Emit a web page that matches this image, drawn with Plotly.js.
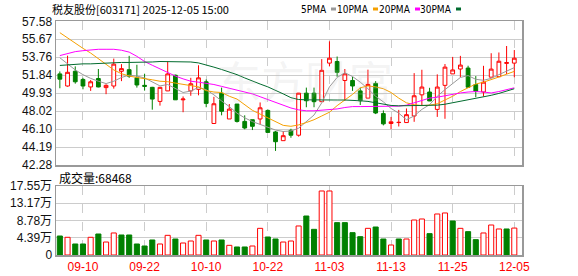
<!DOCTYPE html>
<html>
<head>
<meta charset="utf-8">
<script src="https://cdn.plot.ly/plotly-3.0.1.min.js"></script>
<style>html,body{margin:0;padding:0;background:#fff;}#chart{width:578px;height:276px;}</style>
</head>
<body>
<div id="chart"></div>
<script>
const dates = ['09-05','09-08','09-09','09-10','09-11','09-12','09-15','09-16','09-17','09-18','09-19','09-22','09-23','09-24','09-25','09-26','09-29','09-30',
  '10-09','10-10','10-13','10-14','10-15','10-16','10-17','10-20','10-21','10-22','10-23','10-24','10-27','10-28','10-29','10-30','10-31',
  '11-03','11-04','11-05','11-06','11-07','11-10','11-11','11-12','11-13','11-14','11-17','11-18','11-19','11-20','11-21','11-24','11-25','11-26','11-27','11-28',
  '12-01','12-02','12-03','12-04','12-05'];
const open  = [51.98,50.69,52.26,51.39,50.59,51.49,50.52,50.69,52.26,52.43,51.56,50.76,50.55,49.05,50.17,51.84,49.22,50.17,50.34,51.14,
  46.70,49.93,47.18,48.77,46.92,47.10,47.18,48.09,45.80,44.87,45.97,45.45,49.93,49.93,49.02,53.13,53.30,51.28,51.28,50.17,
  49.40,50.97,47.75,46.70,46.80,46.80,47.50,49.75,50.05,48.20,50.76,51.98,52.50,52.60,50.84,50.05,51.63,51.68,53.10,53.13];
const high  = [52.24,53.92,52.78,51.56,51.32,52.50,50.87,53.61,53.02,53.90,52.95,52.00,50.60,50.60,53.30,51.90,49.58,51.56,52.90,51.39,
  49.54,50.52,48.77,48.77,47.57,47.10,48.94,48.20,45.90,45.90,46.14,49.95,50.52,50.52,53.55,55.45,53.83,52.50,51.67,50.52,
  52.43,51.21,48.09,47.40,48.15,48.30,52.06,52.42,50.50,51.93,53.03,53.79,53.90,52.85,51.75,52.84,54.18,54.26,54.95,54.52];
const low   = [50.45,50.62,50.94,50.34,50.17,50.55,49.82,50.41,51.21,51.56,50.52,50.20,48.17,48.60,50.15,49.20,47.90,49.65,49.70,48.43,
  46.70,47.57,47.18,46.80,46.08,46.00,46.60,45.75,43.78,44.87,45.18,45.30,48.43,48.43,49.02,52.78,51.67,49.12,50.17,48.67,
  49.40,47.70,46.50,46.10,46.38,46.80,46.88,48.65,49.08,47.40,47.20,51.97,51.62,50.55,49.50,49.57,51.63,51.68,51.95,51.62];
const close = [51.42,52.15,51.14,50.69,51.14,50.59,50.76,53.02,52.54,51.74,50.80,50.66,49.30,50.55,51.98,49.22,49.30,50.93,51.56,48.84,
  48.80,48.00,48.23,46.92,46.22,46.40,48.37,45.75,44.76,45.40,45.45,49.93,49.12,49.02,52.36,53.65,52.15,51.98,50.69,49.12,
  50.86,47.82,46.66,46.88,46.82,47.64,49.65,50.58,49.10,50.58,52.70,52.40,52.92,50.56,50.14,51.10,52.49,53.33,53.18,53.65];
const ma5  = [53.70,53.00,52.40,51.90,51.50,51.20,50.95,51.20,51.60,51.85,51.75,51.55,51.10,50.70,50.85,50.40,50.00,50.15,50.55,50.30,
  49.75,49.10,48.50,47.80,47.30,46.90,46.60,46.25,46.00,45.85,45.90,46.20,46.90,47.60,48.90,50.60,51.60,52.10,51.70,51.10,
  50.40,49.60,49.00,48.30,47.80,47.10,47.50,48.20,48.70,49.60,50.30,51.00,51.60,51.80,51.40,51.30,51.50,51.90,52.30,52.65];
const ma10 = [56.37,55.80,55.20,54.70,54.20,53.60,53.00,52.40,52.00,51.75,51.60,51.50,51.35,51.20,51.15,51.00,50.85,50.70,50.60,50.20,
  50.05,50.00,49.60,49.30,48.70,48.10,47.70,47.30,46.90,46.50,46.40,46.55,46.80,47.10,47.50,47.90,48.60,49.20,49.80,50.50,
  50.70,50.60,50.40,50.00,49.40,48.90,48.70,48.60,48.65,48.80,49.20,49.60,50.10,50.50,50.90,51.10,51.35,51.65,51.95,52.25];
const ma20 = [53.93,54.15,54.35,54.45,54.55,54.60,54.60,54.60,54.50,54.30,53.85,53.30,52.90,52.50,52.10,51.75,51.45,51.20,51.10,51.00,
  50.85,50.65,50.45,50.25,50.05,49.85,49.55,49.25,48.95,48.60,48.35,48.15,48.05,48.05,48.10,48.15,48.25,48.40,48.50,48.50,
  48.50,48.50,48.50,48.50,48.55,48.65,48.90,49.15,49.40,49.50,49.65,49.85,49.95,50.05,50.10,50.05,49.95,50.10,50.30,50.50];
const ma30 = [52.88,52.95,53.00,53.05,53.05,53.10,53.10,53.15,53.20,53.20,53.20,53.20,53.25,53.30,53.30,53.30,53.30,53.25,53.15,52.95,
  52.70,52.45,52.20,51.90,51.55,51.20,50.90,50.60,50.25,49.85,49.45,49.25,49.22,49.20,49.20,49.20,49.20,49.20,49.18,49.12,
  49.05,48.90,48.75,48.62,48.58,48.58,48.58,48.58,48.60,48.65,48.75,48.90,49.05,49.20,49.35,49.50,49.70,49.90,50.15,50.40];
const volume = [4.83,4.50,2.80,2.80,4.50,5.34,3.30,5.60,5.09,5.09,2.80,2.29,3.82,2.80,5.00,4.07,3.05,3.56,5.00,3.82,
  3.56,3.82,2.46,2.04,2.04,2.29,6.78,4.58,4.07,3.30,3.56,7.38,9.92,6.53,16.28,16.28,8.23,8.23,5.68,4.66,
  6.78,7.12,4.07,2.54,4.07,4.07,8.90,9.16,5.43,10.43,10.69,8.65,6.78,5.94,3.90,5.60,7.63,6.62,6.62,6.85];
const volUp = [0,1,0,0,1,0,1,1,0,0,0,0,0,1,1,0,1,1,1,0,
  1,0,1,0,0,1,1,0,0,1,1,1,0,0,1,1,0,0,0,0,
  1,0,0,1,0,1,1,1,0,1,1,0,1,0,0,1,1,1,0,1];
const priceTicks = [42.28,44.19,46.10,48.02,49.93,51.84,53.76,55.67,57.58];
const volTicks = [0,4.39,8.78,13.17,17.55];
const volTickText = ['0','4.39万','8.78万','13.17万','17.55万'];
const dateTicks = ['09-10','09-22','10-10','10-22','11-03','11-13','11-25','12-05'];
const titleText = '税友股份[603171] 2025-12-05 15:00';
const volLabel = '成交量:68468';
const maNames = ['5PMA','10PMA','20PMA','30PMA'];

const RED = '#ff0000', GREEN = '#008000';
const maColors = ['#999999','#f5a000','#ff00ff','#006b2e'];
const W = 578, H = 276;
const px = x => x / W, py = y => 1 - y / H;
const xDom = [px(56), px(522)];
const tickFont = {family: 'Liberation Sans, Arial, Noto Sans CJK SC', size: 12, color: '#111'};

const traces = [];
traces.push({
  type: 'candlestick', x: dates, open: open, high: high, low: low, close: close,
  xaxis: 'x', yaxis: 'y', line: {width: 1},
  increasing: {line: {color: RED, width: 1}, fillcolor: '#ffffff'},
  decreasing: {line: {color: GREEN, width: 1}, fillcolor: GREEN},
  hoverinfo: 'skip'
});
[ma5, ma10, ma20, ma30].forEach((m, k) => traces.push({
  type: 'scatter', mode: 'lines', x: dates, y: m, xaxis: 'x', yaxis: 'y',
  line: {color: maColors[k], width: 1}, hoverinfo: 'skip'
}));
traces.push({
  type: 'bar', x: dates, y: volume, xaxis: 'x2', yaxis: 'y2', width: 0.66,
  marker: {color: volUp.map(u => u ? '#ffffff' : GREEN),
           line: {color: volUp.map(u => u ? RED : GREEN), width: 1}},
  hoverinfo: 'skip'
});

const annotations = [
  {text: titleText, x: px(50), y: py(9), xref: 'paper', yref: 'paper', xanchor: 'left', yanchor: 'middle',
   showarrow: false, font: {family: 'Noto Sans CJK SC', size: 11, color: '#000'}},
  {text: volLabel, x: px(57), y: py(177), xref: 'paper', yref: 'paper', xanchor: 'left', yanchor: 'middle',
   showarrow: false, font: {family: 'Noto Sans CJK SC', size: 12, color: '#000'}},
  {text: '东方财富', x: px(305), y: py(80), xref: 'paper', yref: 'paper', xanchor: 'center', yanchor: 'middle',
   showarrow: false, font: {family: 'Noto Sans CJK SC', size: 44, color: 'rgba(190,190,190,0.18)'}}
];
const legendEnds = [328, 370, 412, 453];
const shapes = [];
maNames.forEach((n, k) => {
  annotations.push({text: n, x: px(legendEnds[k] + 1), y: py(9), xref: 'paper', yref: 'paper', xanchor: 'right', yanchor: 'middle',
    showarrow: false, font: {family: 'Liberation Sans Narrow, DejaVu Sans Condensed, Liberation Sans', size: 10, color: '#000'}});
  shapes.push({type: 'rect', xref: 'paper', yref: 'paper', x0: px(legendEnds[k] + 3), x1: px(legendEnds[k] + 8),
    y0: py(10.5), y1: py(7.5), fillcolor: maColors[k], line: {width: 0}});
});

const axisCommon = {
  type: 'category', range: [-0.5, 60.0], domain: xDom, tickvals: dateTicks, ticktext: dateTicks,
  showgrid: true, gridcolor: '#cccccc', griddash: 'dash', gridwidth: 1,
  showline: true, mirror: true, linecolor: '#999999', linewidth: 1.5, zeroline: false, ticks: '', fixedrange: true
};
const layout = {
  width: W, height: H, margin: {l: 0, r: 0, t: 0, b: 0},
  paper_bgcolor: '#ffffff', plot_bgcolor: '#ffffff', showlegend: false, hovermode: false,
  xaxis: Object.assign({}, axisCommon, {anchor: 'y', showticklabels: false, rangeslider: {visible: false}}),
  yaxis: {domain: [py(165), py(21.3)], range: [42.28, 57.58], tickvals: priceTicks, ticktext: priceTicks.map(v => v.toFixed(2)),
    showgrid: true, gridcolor: '#cccccc', gridwidth: 1, showline: true, mirror: true, linecolor: '#999999', linewidth: 1.5,
    zeroline: false, ticks: '', tickfont: tickFont, anchor: 'x', fixedrange: true},
  xaxis2: Object.assign({}, axisCommon, {anchor: 'y2', showticklabels: true,
    tickfont: {family: 'Liberation Sans, Arial', size: 12, color: RED}}),
  yaxis2: {domain: [py(255), py(186)], range: [0, 17.55], tickvals: volTicks, ticktext: volTickText,
    showgrid: true, gridcolor: '#cccccc', gridwidth: 1, showline: true, mirror: true, linecolor: '#999999', linewidth: 1.5,
    zeroline: false, ticks: '', tickfont: tickFont, anchor: 'x2', fixedrange: true},
  annotations: annotations, shapes: shapes
};
Plotly.newPlot('chart', traces, layout, {staticPlot: true, displayModeBar: false});
</script>
</body>
</html>
